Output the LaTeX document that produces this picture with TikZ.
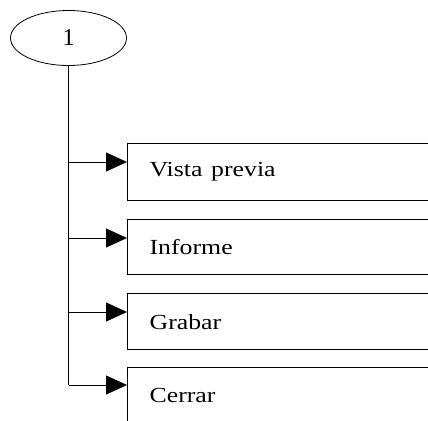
\documentclass[tikz,border=0pt]{standalone}
\usepackage{fontspec}
\setmainfont{Liberation Serif}
\usetikzlibrary{shapes.geometric,arrows.meta,calc}
\newcommand{\wide}[1]{\scalebox{1.2}[1]{#1}}
\tikzset{
  menubox/.style={draw, line width=1.3pt, anchor=north west, minimum height=56pt,
    text width=290pt, inner xsep=22pt, align=left, font=\fontsize{21.5}{24}\selectfont},
  conn/.style={line width=0.8pt, -{Triangle[length=21pt,width=19pt]}},
  spine/.style={line width=1.9pt}
}
\begin{document}
\begin{tikzpicture}[x=1pt,y=-1pt]
\useasboundingbox (0,0) rectangle (428,420);
\clip (0,0) rectangle (428,420);
\node[ellipse, draw, line width=0.8pt, minimum width=116pt, minimum height=55pt, inner sep=0pt,
  font=\fontsize{24}{26}\selectfont] (e) at (68.5,38) {1};
\node[menubox, minimum height=57pt] (b1) at (127,143) {\wide{Vista previa}};
\node[menubox, minimum height=55pt] (b2) at (127,219) {\wide{Informe}};
\node[menubox] (b3) at (127,293) {\wide{Grabar}};
\node[menubox] (b4) at (127,367) {\wide{Cerrar}};
\coordinate (a1) at ($(b1.north west)+(0,19)$);
\coordinate (a2) at ($(b2.north west)+(0,19)$);
\coordinate (a3) at ($(b3.north west)+(0,19)$);
\coordinate (a4) at ($(b4.north west)+(0,18)$);
\draw[spine] (e.south) -- (e.south |- a4);
\draw[conn] (e.south |- a1) -- (a1);
\draw[conn] (e.south |- a2) -- (a2);
\draw[conn] (e.south |- a3) -- (a3);
\draw[conn] (e.south |- a4) -- (a4);
\end{tikzpicture}
\end{document}
